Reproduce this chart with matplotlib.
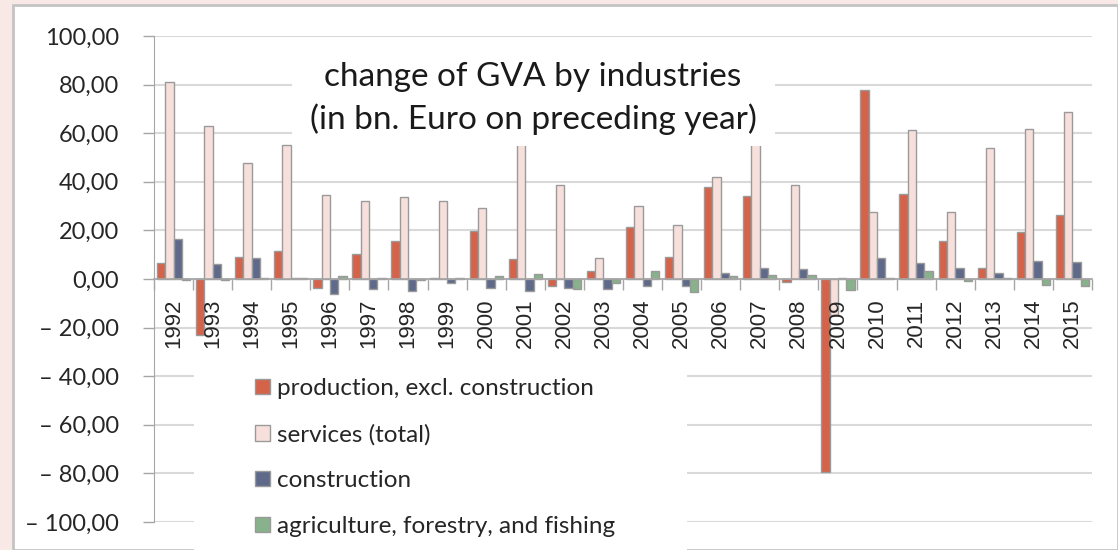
import numpy as np
import matplotlib
matplotlib.use("Agg")
import matplotlib.pyplot as plt
from matplotlib.patches import Rectangle, Patch
from matplotlib.ticker import FuncFormatter, FixedLocator

# Datos: cambio del VAB por sector (mil millones de euros frente al año anterior)
years = [str(y) for y in range(1992, 2016)]
production = [6.4, -23.0, 9.2, 11.4, -3.5, 10.2, 15.5, 0.5, 19.6, 8.1, -3.0, 3.3,
              21.3, 9.1, 37.8, 34.1, -1.4, -79.5, 77.8, 35.0, 15.5, 4.4, 19.2, 26.5]
services = [81.0, 63.0, 47.7, 55.0, 34.6, 31.9, 33.9, 32.3, 29.1, 62.0, 38.8, 8.5,
            30.2, 22.4, 41.9, 60.0, 38.8, -15.0, 27.5, 61.4, 27.5, 54.0, 61.8, 68.9]
construction = [16.5, 6.0, 8.7, 0.5, -6.2, -4.1, -4.8, -1.5, -3.5, -5.1, -3.7, -4.3,
                -2.8, -2.8, 2.3, 4.4, 4.0, 0.6, 8.5, 6.4, 4.4, 2.3, 7.5, 7.0]
agriculture = [-0.3, -0.3, 0.5, 0.5, 1.2, 0.5, -0.6, 0.5, 1.1, 2.0, -4.3, -1.5,
               3.3, -5.2, 1.2, 1.8, 1.6, -4.5, 0.3, 3.3, -0.7, 0.4, -2.5, -3.0]

series = [
    ("production, excl. construction", production, "#D4634A"),
    ("services (total)", services, "#F7E0DB"),
    ("construction", construction, "#5F6A8A"),
    ("agriculture, forestry, and fishing", agriculture, "#88B28C"),
]

W, H = 1118, 550
fig = plt.figure(figsize=(W / 100, H / 100), dpi=100)
fig.patch.set_facecolor("#F8E9E6")

# area blanca del grafico
fig.patches.append(Rectangle((13 / W, 0), 1 - 13 / W, 1 - 5 / H, transform=fig.transFigure,
                             facecolor="white", edgecolor="#C4C4C4", linewidth=2, zorder=-1))

ax = fig.add_axes([154 / W, 1 - 522 / H, (1092 - 154) / W, (522 - 36) / H])
ax.set_facecolor("none")

x = np.arange(len(years))
bw = 0.213
for i, (name, vals, col) in enumerate(series):
    ax.bar(x + (i - 1.5) * bw, vals, bw, color=col, edgecolor="#9A9A9A",
           linewidth=1, zorder=3, label=name)

ax.set_xlim(-0.5, len(years) - 0.5)
ax.set_ylim(-100, 100)
ax.set_yticks(np.arange(-100, 101, 20))

def fmt(v, pos):
    s = f"{abs(v):.2f}".replace(".", ",")
    return ("\u2013 " + s) if v < 0 else s

ax.yaxis.set_major_formatter(FuncFormatter(fmt))
ax.grid(axis="y", color="#D9D9D9", linewidth=1.5, zorder=0)
ax.tick_params(axis="y", length=8, color="#A6A6A6", width=1, pad=17,
               labelsize=17, labelcolor="#262626")
for lab in ax.get_yticklabels():
    lab.set_fontfamily("Lato")

for s in ["top", "right"]:
    ax.spines[s].set_visible(False)
ax.spines["left"].set_color("#A6A6A6")
ax.spines["bottom"].set_position(("data", 0))
ax.spines["bottom"].set_color("#A6A6A6")
ax.spines["bottom"].set_linewidth(1.2)
ax.spines["bottom"].set_zorder(4)

ax.set_xticks(x)
ax.set_xticklabels(years, rotation=90, fontsize=16, family="Liberation Sans", color="#262626")
ax.xaxis.set_minor_locator(FixedLocator(np.arange(-0.5, len(years), 1.0)))
ax.tick_params(axis="x", which="major", length=0, pad=14)
ax.tick_params(axis="x", which="minor", length=8, color="#A6A6A6", width=1)
ax.xaxis.set_zorder(3.5)

# caja blanca del titulo
fig.patches.append(Rectangle((292 / W, 1 - 146 / H), 483 / W, 96 / H, transform=fig.transFigure,
                             facecolor="white", edgecolor="none", zorder=5))
fig.text(533 / W, 1 - 98.5 / H, "change of GVA by industries\n(in bn. Euro on preceding year)",
         ha="center", va="center", fontsize=24, family="Lato", color="#1a1a1a",
         linespacing=1.45, zorder=6)

# caja blanca de la leyenda
fig.patches.append(Rectangle((194 / W, 0), (687 - 194) / W, 1 - 357 / H, transform=fig.transFigure,
                             facecolor="white", edgecolor="none", zorder=5))
handles = [Patch(facecolor=c, edgecolor="#9A9A9A", label=n) for n, _, c in series]
leg = fig.legend(handles=handles, loc="upper left", bbox_to_anchor=(243 / W, 1 - 366 / H),
                 frameon=False, prop={"family": "Lato", "size": 17.5}, handlelength=0.6,
                 handleheight=0.6, handletextpad=0.3, labelspacing=1.02, borderpad=0)
leg.set_zorder(6)
for t in leg.get_texts():
    t.set_color("#262626")

fig.savefig("out.png", dpi=100, facecolor=fig.get_facecolor())
